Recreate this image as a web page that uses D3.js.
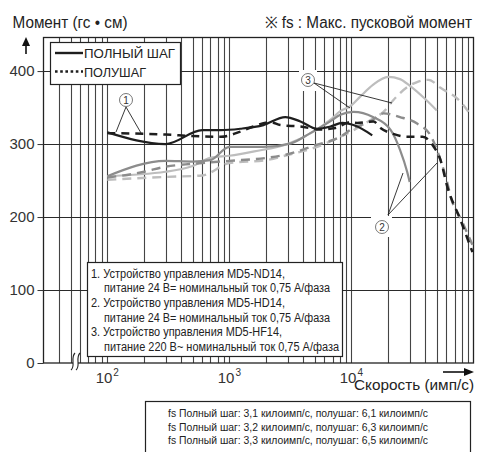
<!DOCTYPE html>
<html><head><meta charset="utf-8">
<script src="https://cdn.jsdelivr.net/npm/d3@7"></script>
<style>body{margin:0;background:#fff}svg{display:block;font-family:"Liberation Sans",Arial,sans-serif}</style>
</head><body><svg id="c" width="479" height="452"></svg>
<script>
// ---- data ----
const yTicks = [0, 100, 200, 300, 400];
const xDecades = [100, 1000, 10000];
const xDecadeLabels = ["2", "3", "4"];
// [speed (pps), torque (gf·cm)]
const nd14Full = [[100,316],[300,300],[600,319],[850,319],[1230,321],[1900,326],[2870,337],[3820,331],[5240,321],[6720,324],[8400,329],[10800,325],[14800,312]];
const nd14Half = [[100,315],[200,314],[300,313],[500,311],[850,310],[1230,317],[1570,324],[2170,330],[2620,326],[3820,324],[5560,320],[7380,322],[9800,330],[11130,329],[15150,331],[17300,322],[22000,314],[28600,310],[38200,310],[47000,297],[53700,278],[60900,242],[78200,196],[98000,152]];
const hd14Full = [[100,256],[300,277],[500,276],[700,278],[1000,296],[1900,296],[3200,301],[4600,315],[6700,331],[8100,340],[10400,344],[15000,337],[21000,319],[25000,292],[28600,262],[30000,248]];
const hd14Half = [[100,254],[200,262],[300,269],[500,273],[1000,277],[2000,281],[3000,286],[5000,298],[8100,310],[10400,322],[14300,331],[18300,342],[25000,337],[34500,328],[44400,312],[53700,278],[61000,247],[65000,228],[80000,195],[98000,162]];
const hf14Full = [[100,256],[300,262],[500,270],[700,281],[1000,284],[1600,290],[3000,300],[4900,317],[6700,333],[8100,345],[9800,352],[11800,365],[15000,381],[20000,392],[25000,389],[30000,380],[40000,362],[50000,346]];
const hf14Half = [[100,251],[300,255],[600,257],[1000,274],[2000,278],[3000,285],[5000,295],[8100,310],[11800,324],[15000,335],[18300,344],[22000,360],[28600,378],[34500,385],[42800,388],[53700,377],[78200,358],[91000,344]];
const legendLabels = ["ПОЛНЫЙ ШАГ", "ПОЛУШАГ"];
const noteLines = ["1. Устройство управления MD5-ND14,","питание 24 В= номинальный ток 0,75 А/фаза","2. Устройство управления MD5-HD14,","питание 24 В= номинальный ток 0,75 А/фаза","3. Устройство управления MD5-HF14,","питание 220 В~ номинальный ток 0,75 А/фаза"];
const fsLines = ["fs Полный шаг: 3,1 килоимп/с, полушаг: 6,1 килоимп/с","fs Полный шаг: 3,2 килоимп/с, полушаг: 6,3 килоимп/с","fs Полный шаг: 3,3 килоимп/с, полушаг: 6,5 килоимп/с"];

// ---- scales ----
const svg = d3.select("#c");
const x = d3.scaleLog().domain([30, 100000]).range([43.5, 473.5]);
const y = d3.scaleLinear().domain([0, 446]).range([363, 37.5]);
const X0 = x.range()[0], X1 = x.range()[1], Y0 = y(0), Y1 = y(446);

// ---- grid ----
const vgrid = [];
[10,100,1000,10000].forEach(d => { for (let k=1;k<=9;k++){ const v=k*d; if (v>30 && v<100000) vgrid.push(v);} });
svg.append("g").selectAll("line").data(vgrid).join("line")
  .attr("x1", d=>Math.round(x(d))+0.5).attr("x2", d=>Math.round(x(d))+0.5)
  .attr("y1", Y1).attr("y2", Y0).attr("stroke", "#444").attr("stroke-width", 1.1);
svg.append("g").selectAll("line").data(yTicks.slice(1)).join("line")
  .attr("x1", X0).attr("x2", X1).attr("y1", d=>Math.round(y(d))+0.5).attr("y2", d=>Math.round(y(d))+0.5)
  .attr("stroke", "#2a2a2a").attr("stroke-width", 1.1);
svg.append("rect").attr("x", X0).attr("y", Y1).attr("width", X1-X0).attr("height", Y0-Y1)
  .attr("fill", "none").attr("stroke", "#222").attr("stroke-width", 1.3);

// y axis
const yAxis = d3.axisLeft(y).tickValues(yTicks).tickSize(6).tickPadding(3).tickFormat(d3.format("d"));
const ga = svg.append("g").attr("transform", `translate(${X0},0)`).call(yAxis);
ga.select(".domain").remove();
ga.selectAll("line").attr("stroke", "#333");
ga.selectAll("text").attr("font-size", 15).attr("fill", "#333").attr("font-family", "Liberation Sans, Arial, sans-serif");

// x labels
svg.append("g").selectAll("text").data(xDecades).join("text")
  .attr("x", d => x(d) + 5).attr("y", 383).attr("text-anchor", "end")
  .attr("font-size", 15).attr("fill", "#333").text("10");
svg.append("g").selectAll("text").data(xDecades).join("text")
  .attr("x", d => x(d) + 6).attr("y", 376).attr("font-size", 10).attr("fill", "#333")
  .text((d,i) => xDecadeLabels[i]);

// ---- curves ----
const line = d3.line().x(d => x(d[0])).y(d => y(d[1])).curve(d3.curveMonotoneX);
const series = [
  {d: hf14Half, c: "#bdbdbd", dash: "9,6", w: 2.4},
  {d: hf14Full, c: "#bdbdbd", dash: null, w: 2.2},
  {d: hd14Half, c: "#8c8c8c", dash: "9,6", w: 2.4},
  {d: hd14Full, c: "#8c8c8c", dash: null, w: 2.2},
  {d: nd14Half, c: "#1e1e1e", dash: "8,6", w: 2.5},
  {d: nd14Full, c: "#1e1e1e", dash: null, w: 2.2}
];
svg.append("g").selectAll("path").data(series).join("path")
  .attr("d", s => line(s.d)).attr("fill", "none").attr("stroke", s => s.c)
  .attr("stroke-width", s => s.w).attr("stroke-dasharray", s => s.dash);

// ---- callouts ----
function callout(cx, cy, num, ax, ay, targets, bg) {
  const g = svg.append("g");
  if (bg) g.append("rect").attr("x", bg[0]).attr("y", bg[1]).attr("width", bg[2]).attr("height", bg[3]).attr("fill", "#fff");
  targets.forEach(t => g.append("line").attr("x1", ax).attr("y1", ay).attr("x2", t[0]).attr("y2", t[1])
    .attr("stroke", "#222").attr("stroke-width", 0.9));
  g.append("circle").attr("cx", cx).attr("cy", cy).attr("r", 6.5).attr("fill", "#fff").attr("stroke", "#555").attr("stroke-width", 0.8);
  g.append("text").attr("x", cx).attr("y", cy + 3.6).attr("text-anchor", "middle").attr("font-size", 10).attr("fill", "#333").text(num);
}
callout(126, 100, "1", 126, 107, [[116, 132], [141, 133]], null);
callout(308, 80, "3", 314, 83, [[350, 108], [392, 103]], [299, 70, 18, 21]);
callout(382, 227, "2", 388, 215, [[403, 173], [437, 163]], [371, 216, 21, 21]);

// ---- legend box ----
svg.append("rect").attr("x", 50.5).attr("y", 42.5).attr("width", 130).attr("height", 42)
  .attr("fill", "#fff").attr("stroke", "#222").attr("stroke-width", 1.2);
svg.append("line").attr("x1", 55).attr("x2", 83).attr("y1", 53).attr("y2", 53).attr("stroke", "#1e1e1e").attr("stroke-width", 2.4);
svg.append("line").attr("x1", 55).attr("x2", 83).attr("y1", 71.5).attr("y2", 71.5).attr("stroke", "#1e1e1e").attr("stroke-width", 2.4).attr("stroke-dasharray", "2.6,2.6");
svg.append("text").attr("x", 84).attr("y", 58).attr("font-size", 13.5).attr("fill", "#222").attr("textLength", 91).attr("lengthAdjust", "spacingAndGlyphs").text(legendLabels[0]);
svg.append("text").attr("x", 84).attr("y", 76.5).attr("font-size", 13.5).attr("fill", "#222").attr("textLength", 62).attr("lengthAdjust", "spacingAndGlyphs").text(legendLabels[1]);

// ---- note box ----
svg.append("rect").attr("x", 87.5).attr("y", 262.5).attr("width", 255).attr("height", 94)
  .attr("fill", "#fff").attr("stroke", "#222").attr("stroke-width", 1.2);
const noteLen = [194, 226, 194, 226, 191, 235];
svg.append("g").selectAll("text").data(noteLines).join("text")
  .attr("x", (d,i) => i % 2 ? 104 : 91).attr("y", (d,i) => 277.5 + i * 14.7)
  .attr("font-size", 12).attr("fill", "#222")
  .attr("textLength", (d,i) => noteLen[i]).attr("lengthAdjust", "spacingAndGlyphs").text(d => d);

// ---- axis break ----
svg.append("path").attr("d", "M71,370 C76,366 70,358 75,353 L80,353 C75,358 81,366 76,370 Z").attr("fill", "#fff").attr("stroke", "none");
svg.append("path").attr("d", "M71,370 C76,366 70,358 75,353 M76,370 C81,366 75,358 80,353").attr("fill", "none").attr("stroke", "#222").attr("stroke-width", 1.1);

// ---- arrows ----
svg.append("line").attr("x1", 26).attr("x2", 26).attr("y1", 54).attr("y2", 42).attr("stroke", "#111").attr("stroke-width", 1.6);
svg.append("path").attr("d", "M26,37 L22,46 L30,46 Z").attr("fill", "#111");
svg.append("line").attr("x1", 443).attr("x2", 465).attr("y1", 372).attr("y2", 372).attr("stroke", "#111").attr("stroke-width", 1.6);
svg.append("path").attr("d", "M474,372 L464,368 L464,376 Z").attr("fill", "#111");

// ---- titles ----
svg.append("text").attr("x", 12.5).attr("y", 27.5).attr("font-size", 16).attr("fill", "#222")
  .attr("textLength", 115).attr("lengthAdjust", "spacingAndGlyphs").text("Момент (гс • см)");
svg.append("text").attr("x", 265).attr("y", 27.5).attr("font-size", 16).attr("fill", "#222")
  .attr("textLength", 207).attr("lengthAdjust", "spacingAndGlyphs").text("※ fs : Макс. пусковой момент");
svg.append("text").attr("x", 354).attr("y", 389.5).attr("font-size", 15).attr("fill", "#222")
  .attr("textLength", 120).attr("lengthAdjust", "spacingAndGlyphs").text("Скорость (имп/с)");

// ---- fs box ----
svg.append("rect").attr("x", 145.5).attr("y", 401.5).attr("width", 325).attr("height", 56)
  .attr("fill", "#fff").attr("stroke", "#222").attr("stroke-width", 1.2);
svg.append("g").selectAll("text").data(fsLines).join("text")
  .attr("x", 298).attr("y", (d,i) => 417 + i * 13.6).attr("text-anchor", "middle")
  .attr("font-size", 11.5).attr("fill", "#222")
  .attr("textLength", 260).attr("lengthAdjust", "spacingAndGlyphs").text(d => d);
</script></body></html>
